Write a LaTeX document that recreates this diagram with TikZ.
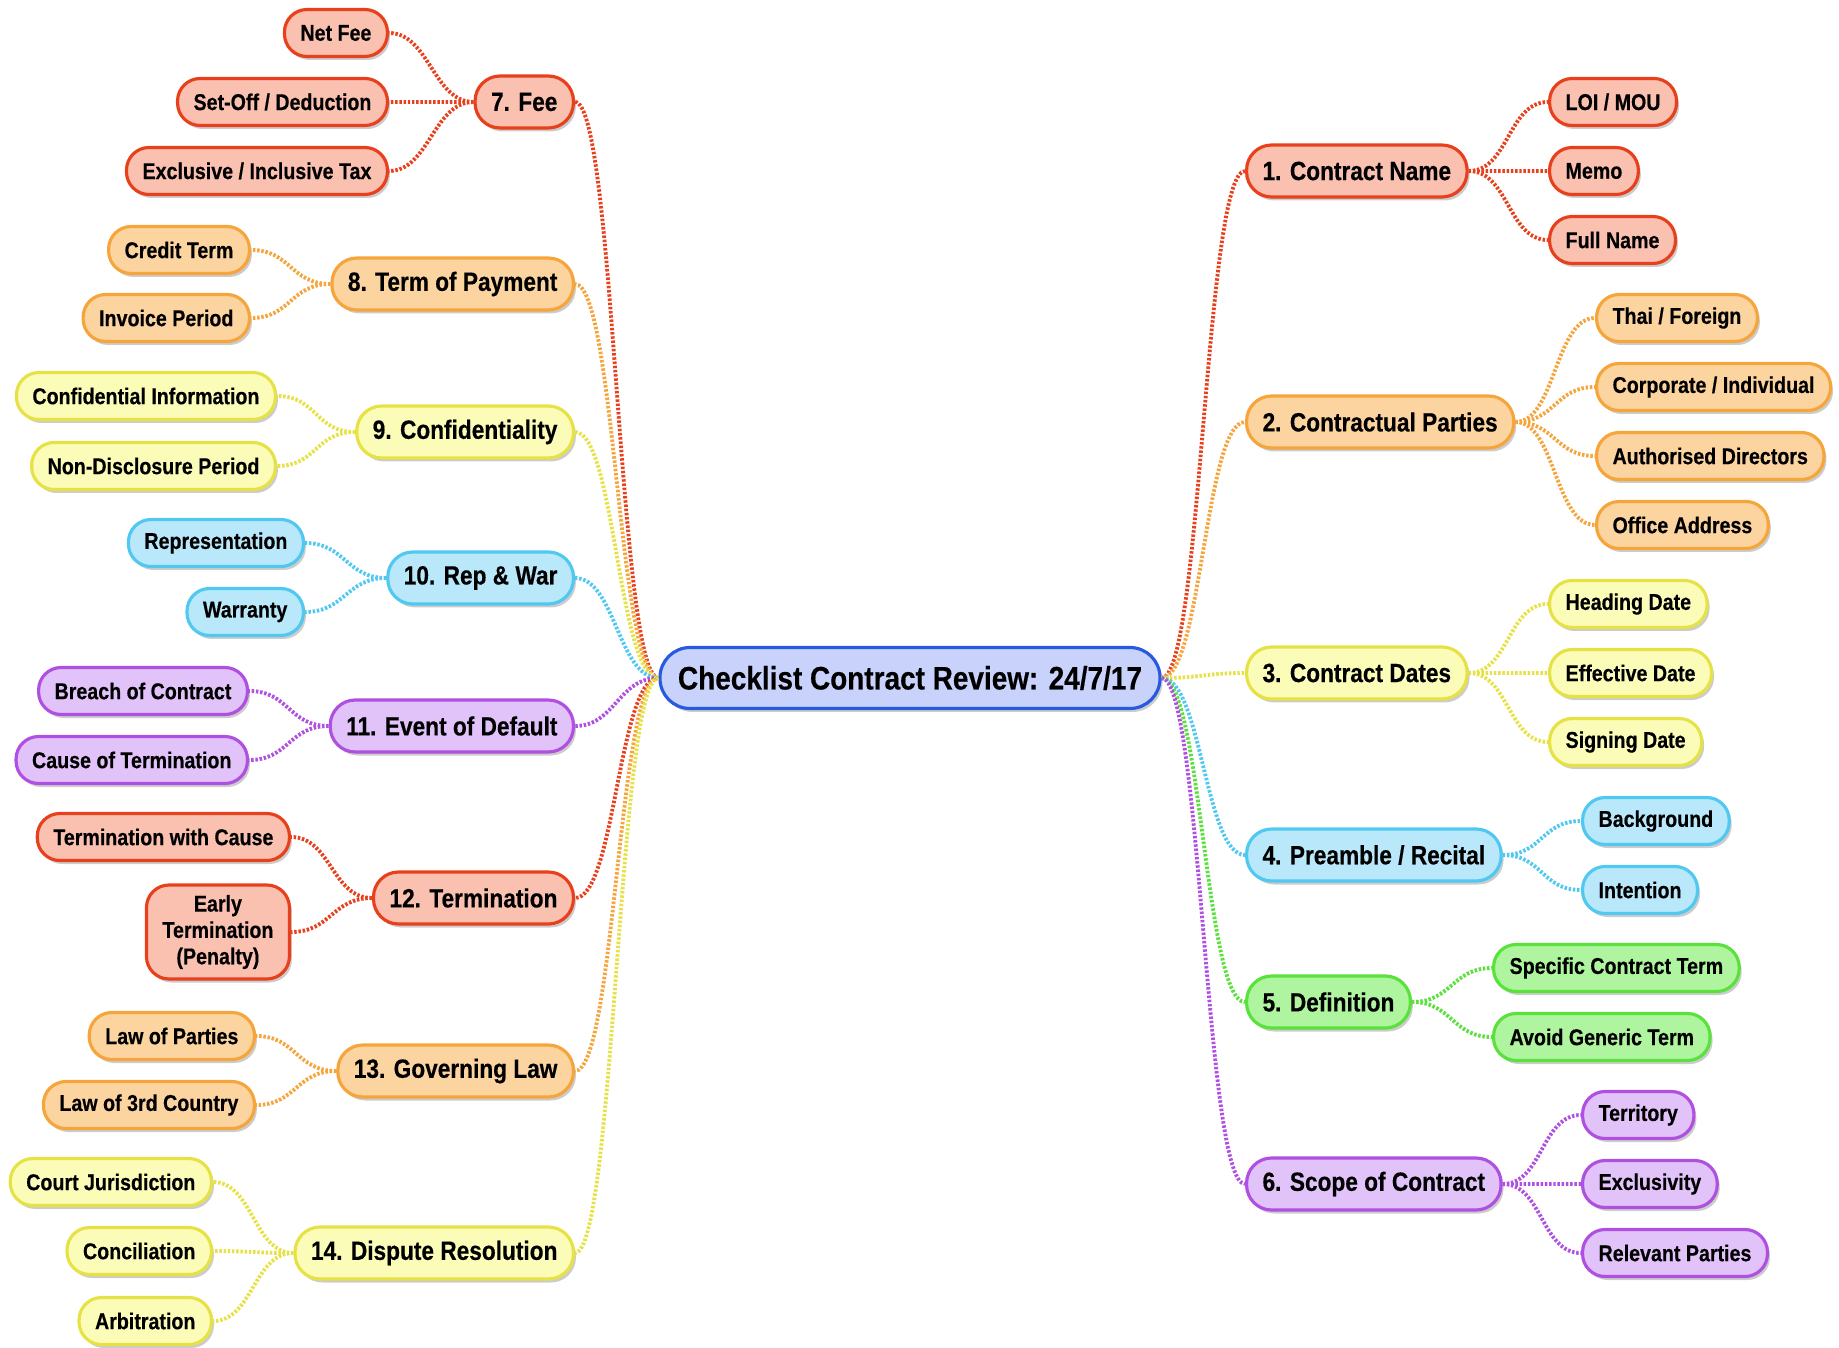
\documentclass[tikz,border=0pt]{standalone}
\usepackage{fontspec}
\setmainfont{Liberation Sans}[FakeStretch=0.86, BoldFeatures={FakeBold=0.4}]
\usepackage{tikz}
\usetikzlibrary{shadows}
\definecolor{hubline}   {RGB}{40, 90, 225}
\definecolor{hubfill}   {RGB}{200, 210, 250}
\definecolor{redline}   {RGB}{232, 64, 28}
\definecolor{redfill}   {RGB}{250, 192, 176}
\definecolor{orangeline}{RGB}{245, 165, 60}
\definecolor{orangefill}{RGB}{252, 212, 160}
\definecolor{yellowline}{RGB}{230, 226, 70}
\definecolor{yellowfill}{RGB}{252, 252, 185}
\definecolor{cyanline}  {RGB}{80, 200, 240}
\definecolor{cyanfill}  {RGB}{185, 232, 250}
\definecolor{greenline} {RGB}{90, 225, 60}
\definecolor{greenfill} {RGB}{175, 245, 160}
\definecolor{purpleline}{RGB}{175, 80, 225}
\definecolor{purplefill}{RGB}{225, 195, 250}
\tikzset{
  % Soft shadow under every box
  boxshadow/.style={
    drop shadow={shadow xshift=0.05cm, shadow yshift=-0.07cm,
                 fill=black, opacity=0.2}
  },
  % Central topic
  hub/.style={
    rectangle, rounded corners=0.6cm,
    minimum height=1.22cm, inner xsep=0.36cm, inner ysep=0pt,
    fill=hubfill, draw=hubline, line width=1.8pt, boxshadow,
    font=\fontsize{18.5}{22}\selectfont\bfseries, text=black
  },
  % Main topic box
  topic/.style={
    rectangle, rounded corners=0.5cm,
    minimum height=1.04cm, inner xsep=0.32cm, inner ysep=0pt,
    line width=1.8pt, boxshadow,
    font=\fontsize{15}{18}\selectfont\bfseries, text=black
  },
  % Sub-topic box
  leaf/.style={
    rectangle, rounded corners=0.45cm,
    minimum height=0.94cm, inner xsep=0.32cm, inner ysep=0pt,
    line width=1.8pt, boxshadow, align=center,
    font=\fontsize{13}{15}\selectfont\bfseries, text=black
  },
  % Branch colours
  redset/.style={fill=redfill, draw=redline},
  orangeset/.style={fill=orangefill, draw=orangeline},
  yellowset/.style={fill=yellowfill, draw=yellowline},
  cyanset/.style={fill=cyanfill, draw=cyanline},
  greenset/.style={fill=greenfill, draw=greenline},
  purpleset/.style={fill=purplefill, draw=purpleline},
  % Dotted branch link
  link/.style={line width=2.2pt, dash pattern=on 1.4pt off 1.0pt},
  rgo/.style={out=0, in=180, distance=0.8cm},
  lgo/.style={out=180, in=0, distance=0.8cm},
}

\begin{document}
\begin{tikzpicture}[x=0.02cm, y=-0.02cm]
  \useasboundingbox (0,0) rectangle (1839,1348);

  % centre
  \node[hub] (c) at (910,678) {Checklist Contract Review: 24/7/17};

  % right branches
  \node[topic, redset, anchor=west] (n1) at (1245,171) {1. Contract Name};
  \node[leaf, redset, anchor=west] (n1a) at (1548,102) {LOI / MOU};
  \node[leaf, redset, anchor=west] (n1b) at (1548,171) {Memo};
  \node[leaf, redset, anchor=west] (n1c) at (1548,240) {Full Name};

  \node[topic, orangeset, anchor=west] (n2) at (1245,422) {2. Contractual Parties};
  \node[leaf, orangeset, anchor=west] (n2a) at (1595,318) {Thai / Foreign};
  \node[leaf, orangeset, anchor=west] (n2b) at (1595,387) {Corporate / Individual};
  \node[leaf, orangeset, anchor=west] (n2c) at (1595,456) {Authorised Directors};
  \node[leaf, orangeset, anchor=west] (n2d) at (1595,525) {Office Address};

  \node[topic, yellowset, anchor=west] (n3) at (1245,673) {3. Contract Dates};
  \node[leaf, yellowset, anchor=west] (n3a) at (1548,604) {Heading Date};
  \node[leaf, yellowset, anchor=west] (n3b) at (1548,673) {Effective Date};
  \node[leaf, yellowset, anchor=west] (n3c) at (1548,742) {Signing Date};

  \node[topic, cyanset, anchor=west] (n4) at (1245,855) {4. Preamble / Recital};
  \node[leaf, cyanset, anchor=west] (n4a) at (1581,821) {Background};
  \node[leaf, cyanset, anchor=west] (n4b) at (1581,890) {Intention};

  \node[topic, greenset, anchor=west] (n5) at (1245,1002) {5. Definition};
  \node[leaf, greenset, anchor=west] (n5a) at (1492,968) {Specific Contract Term};
  \node[leaf, greenset, anchor=west] (n5b) at (1492,1037) {Avoid Generic Term};

  \node[topic, purpleset, anchor=west] (n6) at (1245,1184) {6. Scope of Contract};
  \node[leaf, purpleset, anchor=west] (n6a) at (1581,1115) {Territory};
  \node[leaf, purpleset, anchor=west] (n6b) at (1581,1184) {Exclusivity};
  \node[leaf, purpleset, anchor=west] (n6c) at (1581,1253) {Relevant Parties};

  % left branches
  \node[topic, redset, anchor=east] (n7) at (575,102) {7. Fee};
  \node[leaf, redset, anchor=east] (n7a) at (389,33) {Net Fee};
  \node[leaf, redset, anchor=east] (n7b) at (389,102) {Set-Off / Deduction};
  \node[leaf, redset, anchor=east] (n7c) at (389,171) {Exclusive / Inclusive Tax};

  \node[topic, orangeset, anchor=east] (n8) at (575,284) {8. Term of Payment};
  \node[leaf, orangeset, anchor=east] (n8a) at (251,250) {Credit Term};
  \node[leaf, orangeset, anchor=east] (n8b) at (251,318) {Invoice Period};

  \node[topic, yellowset, anchor=east] (n9) at (575,432) {9. Confidentiality};
  \node[leaf, yellowset, anchor=east] (n9a) at (277,396) {Confidential Information};
  \node[leaf, yellowset, anchor=east] (n9b) at (277,466) {Non-Disclosure Period};

  \node[topic, cyanset, anchor=east] (n10) at (575,578) {10. Rep \& War};
  \node[leaf, cyanset, anchor=east] (n10a) at (305,543) {Representation};
  \node[leaf, cyanset, anchor=east] (n10b) at (305,612) {Warranty};

  \node[topic, purpleset, anchor=east] (n11) at (575,726) {11. Event of Default};
  \node[leaf, purpleset, anchor=east] (n11a) at (249,691) {Breach of Contract};
  \node[leaf, purpleset, anchor=east] (n11b) at (249,760) {Cause of Termination};

  \node[topic, redset, anchor=east] (n12) at (575,898) {12. Termination};
  \node[leaf, redset, anchor=east] (n12a) at (291,837) {Termination with Cause};
  \node[leaf, redset, anchor=east, inner ysep=0.2cm] (n12b) at (291,932) {Early\\Termination\\(Penalty)};

  \node[topic, orangeset, anchor=east] (n13) at (575,1071) {13. Governing Law};
  \node[leaf, orangeset, anchor=east] (n13a) at (256,1036) {Law of Parties};
  \node[leaf, orangeset, anchor=east] (n13b) at (256,1105) {Law of 3rd Country};

  \node[topic, yellowset, anchor=east] (n14) at (575,1253) {14. Dispute Resolution};
  \node[leaf, yellowset, anchor=east] (n14a) at (213,1182) {Court Jurisdiction};
  \node[leaf, yellowset, anchor=east] (n14b) at (213,1251) {Conciliation};
  \node[leaf, yellowset, anchor=east] (n14c) at (213,1321) {Arbitration};

  % links, right side
  \draw[link, redline] (c.east) to[rgo] (n1.west)
    (n1.east) to[rgo] (n1a.west) (n1.east) to[rgo] (n1b.west) (n1.east) to[rgo] (n1c.west);
  \draw[link, orangeline] (c.east) to[rgo] (n2.west)
    (n2.east) to[rgo] (n2a.west) (n2.east) to[rgo] (n2b.west)
    (n2.east) to[rgo] (n2c.west) (n2.east) to[rgo] (n2d.west);
  \draw[link, yellowline] (c.east) to[rgo] (n3.west)
    (n3.east) to[rgo] (n3a.west) (n3.east) to[rgo] (n3b.west) (n3.east) to[rgo] (n3c.west);
  \draw[link, cyanline] (c.east) to[rgo] (n4.west)
    (n4.east) to[rgo] (n4a.west) (n4.east) to[rgo] (n4b.west);
  \draw[link, greenline] (c.east) to[rgo] (n5.west)
    (n5.east) to[rgo] (n5a.west) (n5.east) to[rgo] (n5b.west);
  \draw[link, purpleline] (c.east) to[rgo] (n6.west)
    (n6.east) to[rgo] (n6a.west) (n6.east) to[rgo] (n6b.west) (n6.east) to[rgo] (n6c.west);

  % links, left side
  \draw[link, redline] (c.west) to[lgo] (n7.east)
    (n7.west) to[lgo] (n7a.east) (n7.west) to[lgo] (n7b.east) (n7.west) to[lgo] (n7c.east);
  \draw[link, orangeline] (c.west) to[lgo] (n8.east)
    (n8.west) to[lgo] (n8a.east) (n8.west) to[lgo] (n8b.east);
  \draw[link, yellowline] (c.west) to[lgo] (n9.east)
    (n9.west) to[lgo] (n9a.east) (n9.west) to[lgo] (n9b.east);
  \draw[link, cyanline] (c.west) to[lgo] (n10.east)
    (n10.west) to[lgo] (n10a.east) (n10.west) to[lgo] (n10b.east);
  \draw[link, purpleline] (c.west) to[lgo] (n11.east)
    (n11.west) to[lgo] (n11a.east) (n11.west) to[lgo] (n11b.east);
  \draw[link, redline] (c.west) to[lgo] (n12.east)
    (n12.west) to[lgo] (n12a.east) (n12.west) to[lgo] (n12b.east);
  \draw[link, orangeline] (c.west) to[lgo] (n13.east)
    (n13.west) to[lgo] (n13a.east) (n13.west) to[lgo] (n13b.east);
  \draw[link, yellowline] (c.west) to[lgo] (n14.east)
    (n14.west) to[lgo] (n14a.east) (n14.west) to[lgo] (n14b.east) (n14.west) to[lgo] (n14c.east);
\end{tikzpicture}
\end{document}
